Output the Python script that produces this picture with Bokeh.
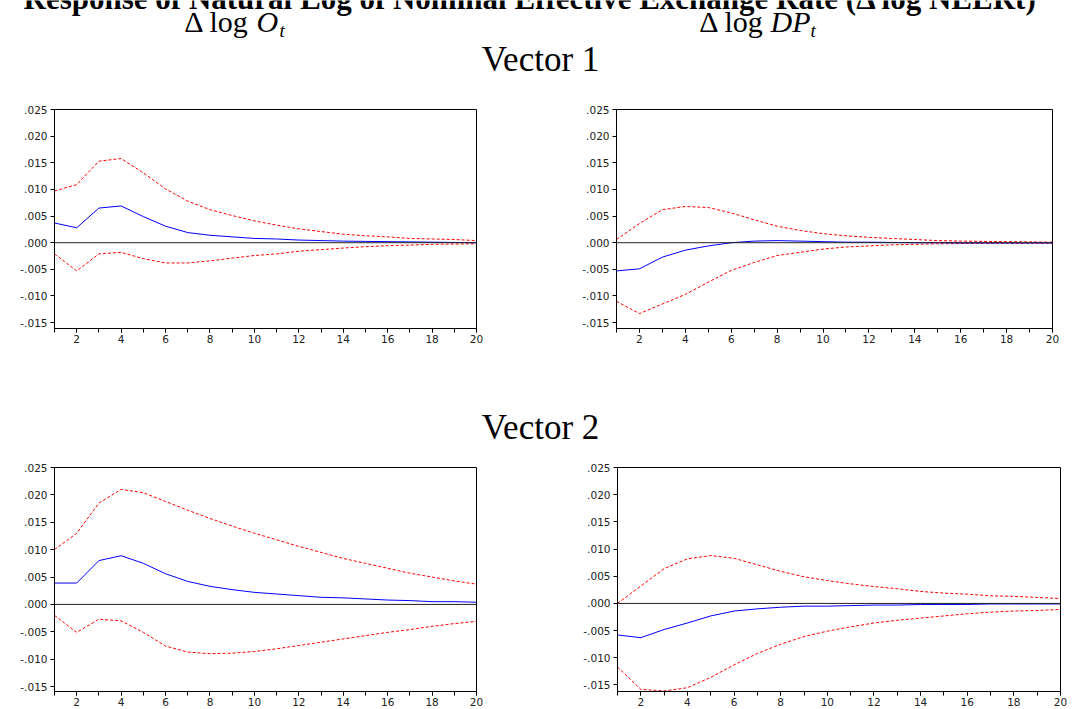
from bokeh.plotting import figure
from bokeh.layouts import column, row
from bokeh.models import Range1d, FixedTicker, CustomJSTickFormatter, Span
from bokeh.embed import file_html
from bokeh.resources import INLINE
from bokeh.core.properties import value

# ---------------- data ----------------
periods = list(range(1, 21))
x_tick_labels = [2, 4, 6, 8, 10, 12, 14, 16, 18, 20]
y_ticks = [-0.015, -0.010, -0.005, 0.0, 0.005, 0.010, 0.015, 0.020, 0.025]

title_text = "Response of Natural Log of Nominal Effective Exchange Rate (\u0394 log NEERt)"
col_labels = ["O", "DP"]
row_labels = ["Vector 1", "Vector 2"]

v1_o_resp = [0.0037, 0.0028, 0.0065, 0.0069, 0.0049, 0.0031, 0.0019, 0.0014, 0.0011, 0.0008,
             0.0007, 0.0005, 0.0004, 0.0003, 0.00025, 0.0002, 0.00015, 0.0001, 0.00005, 0.0]
v1_o_up = [0.0097, 0.0109, 0.0153, 0.0158, 0.0131, 0.0101, 0.0078, 0.0062, 0.0051, 0.0041,
           0.0033, 0.0026, 0.0021, 0.0016, 0.0013, 0.0011, 0.0008, 0.0007, 0.0006, 0.0004]
v1_o_lo = [-0.0021, -0.0053, -0.0021, -0.0018, -0.0030, -0.0038, -0.0038, -0.0034, -0.0029, -0.0024,
           -0.0021, -0.0016, -0.0013, -0.0010, -0.00075, -0.00055, -0.00045, -0.0003, -0.00025, -0.0002]

v1_dp_resp = [-0.0053, -0.0049, -0.0027, -0.0014, -0.0006, 0.0, 0.0003, 0.0004, 0.0003, 0.0002,
              0.0001, 0.0001, 0.00005, 0.0, 0.0, -0.00005, -0.00005, -0.00005, -0.00005, -0.00005]
v1_dp_up = [0.0006, 0.0036, 0.0062, 0.0068, 0.0066, 0.0056, 0.0043, 0.0031, 0.0023, 0.0017,
            0.0013, 0.0010, 0.0008, 0.0006, 0.0004, 0.0003, 0.00025, 0.0002, 0.00015, 0.0001]
v1_dp_lo = [-0.0110, -0.0133, -0.0115, -0.0097, -0.0074, -0.0052, -0.0037, -0.0024, -0.0018, -0.0012,
            -0.0008, -0.0006, -0.0004, -0.0003, -0.0002, -0.00015, -0.0001, -0.0001, -0.0001, -0.0001]

v2_o_resp = [0.0039, 0.0039, 0.0080, 0.0089, 0.0075, 0.0056, 0.0042, 0.0033, 0.0027, 0.0022,
             0.0019, 0.0016, 0.0013, 0.0012, 0.0010, 0.0008, 0.0007, 0.0005, 0.0005, 0.0004]
v2_o_up = [0.0100, 0.0130, 0.0185, 0.0210, 0.0204, 0.0188, 0.0172, 0.0157, 0.0143, 0.0130,
           0.0118, 0.0106, 0.0095, 0.0084, 0.0075, 0.0066, 0.0057, 0.0050, 0.0043, 0.0037]
v2_o_lo = [-0.0020, -0.0051, -0.0027, -0.0030, -0.0051, -0.0076, -0.0087, -0.0090, -0.0089, -0.0086,
           -0.0081, -0.0075, -0.0069, -0.0063, -0.0057, -0.0051, -0.0046, -0.0040, -0.0035, -0.0031]

v2_dp_resp = [-0.0058, -0.0063, -0.0048, -0.0036, -0.0023, -0.0014, -0.0010, -0.0007, -0.0005, -0.0005,
              -0.0004, -0.0003, -0.0003, -0.0002, -0.0002, -0.0002, -0.0001, -0.0001, -0.0001, -0.0001]
v2_dp_up = [0.0000, 0.0032, 0.0064, 0.0082, 0.0088, 0.0083, 0.0071, 0.0059, 0.0049, 0.0042,
            0.0036, 0.0031, 0.0027, 0.0022, 0.0019, 0.0017, 0.0014, 0.0013, 0.0011, 0.0009]
v2_dp_lo = [-0.0117, -0.0158, -0.0161, -0.0155, -0.0136, -0.0113, -0.0092, -0.0075, -0.0061, -0.0051,
            -0.0043, -0.0036, -0.0031, -0.0027, -0.0023, -0.0019, -0.0016, -0.0014, -0.0013, -0.0011]

# ---------------- styling ----------------
SERIF = value("Liberation Serif")
TICK_FONT = "DejaVu Sans"
PAGE_W = 1078


def text_fig(height, y_top):
    """Figure without axes whose data coordinates are page pixels."""
    p = figure(width=PAGE_W, height=height, title=None,
               x_range=Range1d(0, PAGE_W), y_range=Range1d(y_top + height, y_top),
               x_axis_location=None, y_axis_location=None,
               output_backend="svg", toolbar_location=None,
               min_border=0, min_border_left=0, min_border_right=0,
               min_border_top=0, min_border_bottom=0)
    p.grid.visible = False
    p.outline_line_color = None
    p.background_fill_color = "white"
    p.border_fill_color = "white"
    return p


def irf_fig(resp, up, lo, ymin, bl, br, bt, bb, fw, fh):
    p = figure(frame_width=fw, frame_height=fh, title=None,
               min_border_left=bl, min_border_right=br,
               min_border_top=bt, min_border_bottom=bb,
               x_range=Range1d(1, 20), y_range=Range1d(ymin, 0.025),
               output_backend="svg", toolbar_location=None)
    p.grid.visible = False
    p.outline_line_color = "black"
    p.outline_line_width = 1
    p.background_fill_color = "white"
    p.border_fill_color = "white"
    p.add_layout(Span(location=0, dimension="width", line_color="#222222", line_width=1))
    p.line(periods, up, line_color="#ff0000", line_dash="3 2", line_width=1)
    p.line(periods, lo, line_color="#ff0000", line_dash="3 2", line_width=1)
    p.line(periods, resp, line_color="#0000ff", line_width=1)

    xa = p.xaxis[0]
    xa.ticker = FixedTicker(ticks=x_tick_labels, minor_ticks=periods)
    xa.major_tick_in = 0
    xa.major_tick_out = 4
    xa.minor_tick_in = 0
    xa.minor_tick_out = 4
    xa.major_label_standoff = 2

    ya = p.yaxis[0]
    ya.ticker = FixedTicker(ticks=y_ticks)
    ya.minor_tick_line_color = None
    ya.major_tick_in = 0
    ya.major_tick_out = 4
    ya.major_label_standoff = 3
    ya.formatter = CustomJSTickFormatter(code="""
        const s = Math.abs(tick).toFixed(3).replace(/^0/, '');
        return (tick < -1e-9 ? '-' : '') + s;
    """)
    for ax in (xa, ya):
        ax.axis_line_color = "black"
        ax.major_tick_line_color = "black"
        ax.minor_tick_line_color = "black" if ax is xa else None
        ax.major_label_text_font = TICK_FONT
        ax.major_label_text_font_size = "10.5px"
        ax.major_label_text_color = "#222222"
    return p


# ---------------- header ----------------
header = text_fig(95, 0)
header.text(x=[530], y=[-2], text=[title_text], text_font=SERIF, text_font_size="31px",
            text_font_style="bold", text_align="center", text_baseline="middle", text_color="black")
# column labels: "Δ log O_t" and "Δ log DP_t"
header.text(x=[249, 764], y=[21, 21], text=["\u0394 log", "\u0394 log"], text_font=SERIF,
            text_font_size="30px", text_align="right", text_baseline="middle", text_color="black")
header.text(x=[256, 770], y=[21, 21], text=col_labels, text_font=SERIF, text_font_size="30px",
            text_font_style="italic", text_align="left", text_baseline="middle", text_color="black")
header.text(x=[279, 810], y=[30, 30], text=["t", "t"], text_font=SERIF, text_font_size="19px",
            text_font_style="italic", text_align="left", text_baseline="middle", text_color="black")
header.text(x=[540], y=[59], text=[row_labels[0]], text_font=SERIF, text_font_size="35px",
            text_align="center", text_baseline="middle", text_color="black")

# ---------------- plots ----------------
p11 = irf_fig(v1_o_resp, v1_o_up, v1_o_lo, -0.0161, 54, 64, 14, 18, 422, 219)
p12 = irf_fig(v1_dp_resp, v1_dp_up, v1_dp_lo, -0.0161, 76, 26, 14, 18, 436, 219)

middle = text_fig(107, 346)
middle.text(x=[540], y=[427], text=[row_labels[1]], text_font=SERIF, text_font_size="35px",
            text_align="center", text_baseline="middle", text_color="black")

p21 = irf_fig(v2_o_resp, v2_o_up, v2_o_lo, -0.0159, 54, 64, 14, 18, 422, 224)
p22 = irf_fig(v2_dp_resp, v2_dp_up, v2_dp_lo, -0.0162, 77, 18, 14, 18, 443, 224)

layout = column(header, row(p11, p12), middle, row(p21, p22))

open("out.html", "w").write(file_html(layout, INLINE))
